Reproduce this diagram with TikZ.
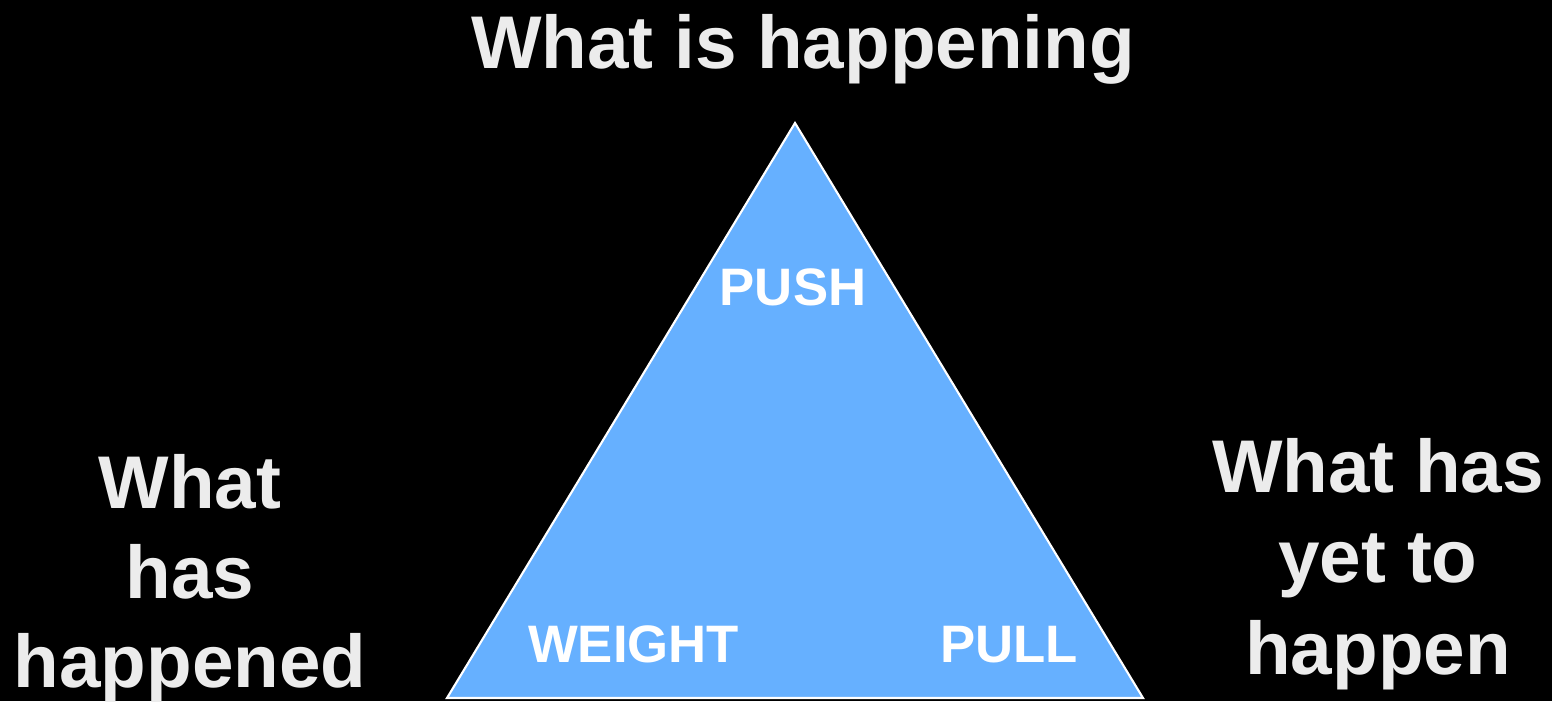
\documentclass[tikz,border=0pt]{standalone}
\usepackage{fontspec}
\setmainfont{Liberation Sans}
\usepackage{tikz}
\usepackage{xcolor}
\definecolor{skyblue}{RGB}{102,176,255}
\definecolor{lightgrey}{RGB}{236,236,236}

\tikzset{
  bigtext/.style={anchor=base,text=lightgrey,font=\fontsize{42.5}{50}\selectfont\bfseries},
  cornertext/.style={anchor=base,text=white,font=\fontsize{30}{36}\selectfont\bfseries}
}

\begin{document}
\begin{tikzpicture}
  % --- background ---
  \fill[black] (0,0) rectangle (31.04,14.02);
  \useasboundingbox (0,0) rectangle (31.04,14.02);

  % --- triangle ---
  \coordinate (apex) at (15.90,11.56);
  \coordinate (left) at (8.94,0.06);
  \coordinate (right) at (22.86,0.06);
  \fill[skyblue,draw=white,line width=1.2pt,line join=miter] (apex) -- (left) -- (right) -- cycle;

  % --- corner words ---
  \node[cornertext] (push) at (15.86,7.92) {PUSH};
  \node[cornertext] (weight) at (12.67,0.78) {WEIGHT};
  \node[cornertext] (pull) at (20.18,0.78) {PULL};

  % --- top text ---
  \node[bigtext] (now) at (16.06,12.64) {What is happening};

  % --- left text ---
  \node[bigtext] (pastA) at (3.80,3.86) {What};
  \node[bigtext] (pastB) at (3.80,2.06) {has};
  \node[bigtext] (pastC) at (3.80,0.28) {happened};

  % --- right text ---
  \node[bigtext] (futA) at (27.56,4.18) {What has};
  \node[bigtext] (futB) at (27.56,2.38) {yet to};
  \node[bigtext] (futC) at (27.56,0.54) {happen};

\end{tikzpicture}
\end{document}
